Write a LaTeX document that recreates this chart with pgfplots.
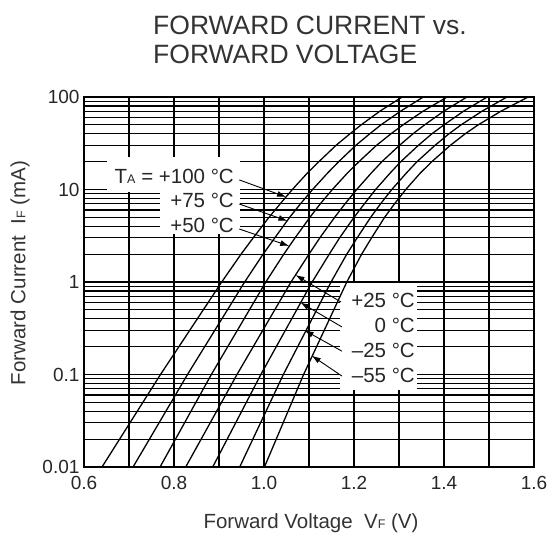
\documentclass[border=0pt]{standalone}
\usepackage{fontspec}
\setmainfont{Liberation Sans}
\usepackage{pgfplots}
\usepackage{pgfplotstable}
\pgfplotsset{compat=1.18}
\usetikzlibrary{arrows.meta}

\pgfplotstableread{
I     c1    c2    c3    c4    c5    c6    c7
0.01  0.640 0.709 0.769 0.826 0.886 0.946 1.001
0.1   0.770 0.830 0.883 0.940 0.993 1.043 1.088
1     0.906 0.957 1.004 1.060 1.107 1.149 1.184
2     0.949 0.998 1.044 1.100 1.145 1.184 1.217
3     0.976 1.024 1.069 1.124 1.168 1.207 1.239
5     1.011 1.057 1.102 1.157 1.200 1.237 1.268
7     1.036 1.081 1.125 1.180 1.223 1.259 1.290
10    1.063 1.108 1.152 1.206 1.248 1.284 1.315
15    1.096 1.141 1.185 1.238 1.280 1.316 1.347
20    1.122 1.166 1.211 1.262 1.304 1.340 1.373
30    1.160 1.204 1.250 1.301 1.343 1.380 1.414
40    1.191 1.235 1.282 1.331 1.373 1.411 1.447
50    1.216 1.260 1.309 1.357 1.400 1.438 1.476
70    1.257 1.303 1.353 1.399 1.443 1.484 1.526
100   1.307 1.354 1.407 1.451 1.496 1.540 1.587
}\vfdata

\newcommand{\lblfont}{\fontsize{20.5}{20.5}\selectfont}
\newcommand{\sub}[1]{{\fontsize{12.5}{12.5}\selectfont #1}}

\begin{document}
\begin{tikzpicture}[x=1pt,y=1pt]
\path[use as bounding box] (0pt,0pt) rectangle (552pt,543pt);
\begin{axis}[
  at={(84pt,76pt)}, anchor=south west, scale only axis,
  width=450pt, height=370pt,
  xmin=0.6, xmax=1.6, ymode=log, ymin=0.01, ymax=100,
  xtick={0.6,0.8,1.0,1.2,1.4,1.6},
  xticklabels={0.6,0.8,1.0,1.2,1.4,1.6},
  minor xtick={0.7,0.9,1.1,1.3,1.5},
  ytick={0.01,0.1,1,10,100},
  yticklabels={0.01,0.1,1,10,100},
  minor ytick={0.02,0.03,0.04,0.05,0.06,0.07,0.08,0.09,
               0.2,0.3,0.4,0.5,0.6,0.7,0.8,0.9,
               2,3,4,5,6,7,8,9,20,30,40,50,60,70,80,90},
  grid=both,
  major grid style={black, line width=1.2pt},
  minor grid style={black, line width=1.2pt},
  tick style={draw=none},
  axis line style={line width=1.6pt},
  ticklabel style={font=\fontsize{19}{19}\selectfont, text=black!85},
  xticklabel style={anchor=base, yshift=-23pt},
  yticklabel style={xshift=-1pt},
]
% white label backgrounds (under curves, over grid)
\fill[white] (rel axis cs:0.0511,0.743) rectangle (rel axis cs:0.3467,0.838);
\fill[white] (rel axis cs:0.1689,0.6297) rectangle (rel axis cs:0.3467,0.743);
\fill[white] (rel axis cs:0.5689,0.208) rectangle (rel axis cs:0.74,0.497);

\addplot[black, line width=1.3pt] table[x=c1, y=I] {\vfdata};
\addplot[black, line width=1.3pt] table[x=c2, y=I] {\vfdata};
\addplot[black, line width=1.3pt] table[x=c3, y=I] {\vfdata};
\addplot[black, line width=1.3pt] table[x=c4, y=I] {\vfdata};
\addplot[black, line width=1.3pt] table[x=c5, y=I] {\vfdata};
\addplot[black, line width=1.3pt] table[x=c6, y=I] {\vfdata};
\addplot[black, line width=1.3pt] table[x=c7, y=I] {\vfdata};

% arrows
\begin{scope}[line width=0.9pt, -{Latex[length=9pt,width=6pt]}]
\draw (axis cs:0.945,12.7) -- (axis cs:1.049,8.3);
\draw (axis cs:0.945,6.97) -- (axis cs:1.052,4.57);
\draw (axis cs:0.945,3.74) -- (axis cs:1.056,2.45);
\draw (axis cs:1.171,0.608) -- (axis cs:1.070,1.19);
\draw (axis cs:1.173,0.327) -- (axis cs:1.081,0.60);
\draw (axis cs:1.173,0.179) -- (axis cs:1.090,0.30);
\draw (axis cs:1.173,0.0963) -- (axis cs:1.106,0.16);
\end{scope}
\end{axis}

% labels
\begin{scope}[every node/.style={inner sep=0pt, text=black!85, font=\lblfont}]
\node[anchor=east] at (234pt,367pt) {T\sub{A} = +100 °C};
\node[anchor=east] at (234pt,343pt) {+75 °C};
\node[anchor=east] at (234pt,318pt) {+50 °C};
\node[anchor=east] at (415pt,243pt) {+25 °C};
\node[anchor=east] at (415pt,218pt) {0 °C};
\node[anchor=east] at (415pt,193pt) {–25 °C};
\node[anchor=east] at (415pt,168pt) {–55 °C};
\end{scope}

% title
\node[anchor=base west, inner sep=0pt, text=black!80, font=\fontsize{26.5}{26.5}\selectfont] at (153pt,508pt) {FORWARD CURRENT vs.};
\node[anchor=base west, inner sep=0pt, text=black!80, font=\fontsize{26.5}{26.5}\selectfont] at (153pt,479pt) {FORWARD VOLTAGE};

% axis labels
\node[rotate=90, inner sep=0pt, text=black!80, font=\lblfont] at (20pt,270pt) {Forward Current\ \ I\sub{F} (mA)};
\node[inner sep=0pt, text=black!80, font=\lblfont] at (311pt,20pt) {Forward Voltage\ \ V\sub{F} (V)};
\end{tikzpicture}
\end{document}
